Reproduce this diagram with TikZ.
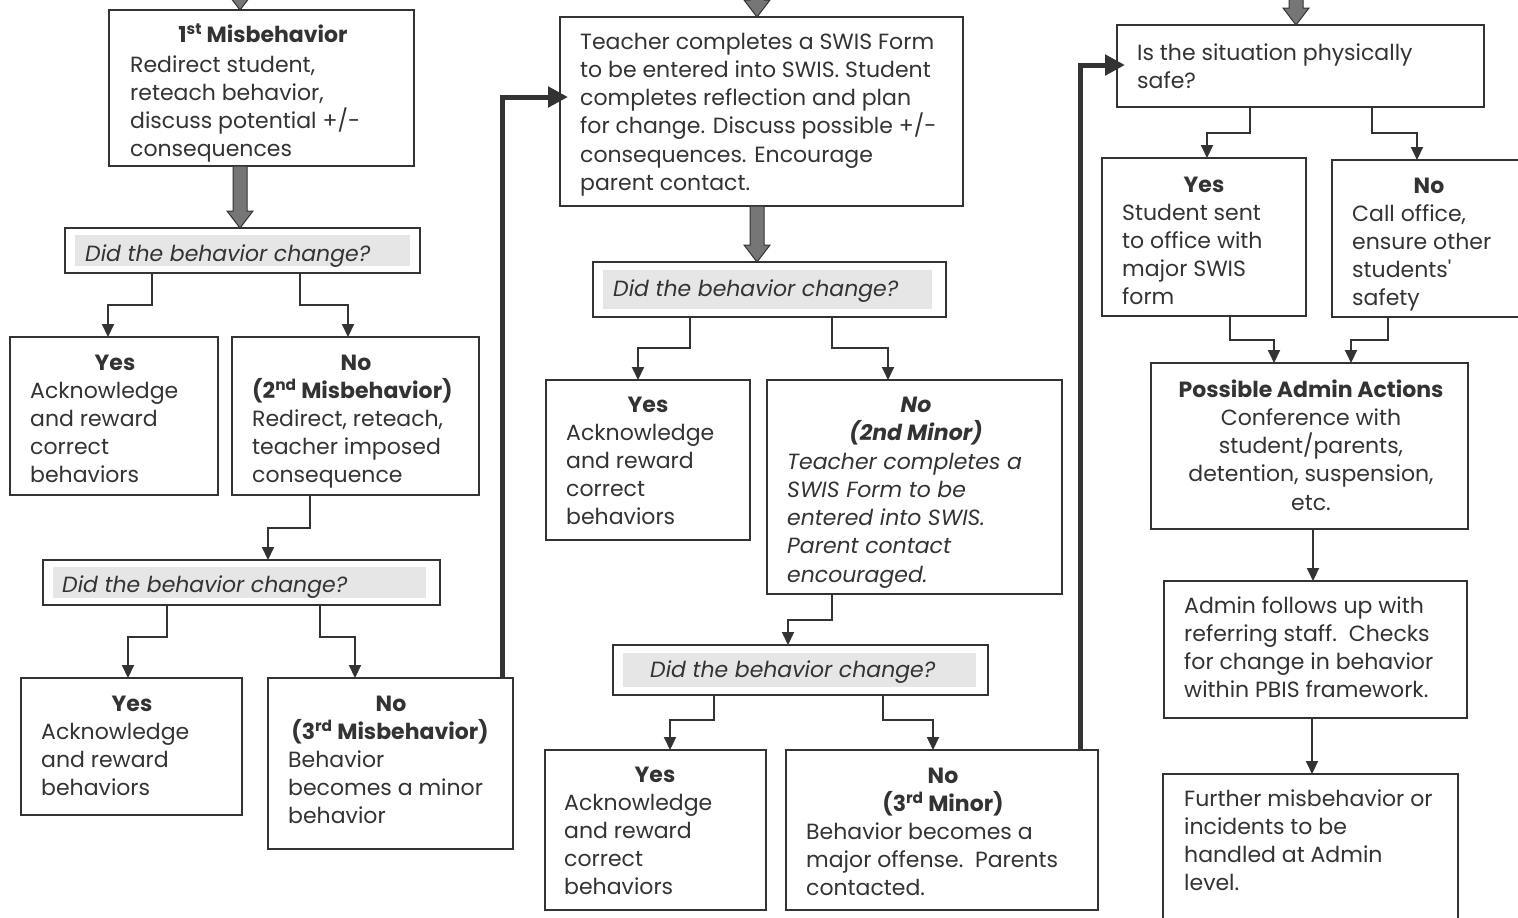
\documentclass[tikz,border=0pt]{standalone}
\IfFileExists{tgadventor.sty}{\usepackage[T1]{fontenc}\usepackage{tgadventor}\renewcommand\familydefault{\sfdefault}}{\usepackage{fontspec}\setmainfont{Poppins}}
\usepackage{textcomp}
\usetikzlibrary{arrows.meta,calc}
\definecolor{ink}{HTML}{333333}
\definecolor{hlc}{HTML}{E6E6E6}
\definecolor{blkc}{HTML}{767676}
\newcommand\fs{\fontsize{22}{28.2}\selectfont}
\newcommand\fl{\rule{0pt}{20pt}}
\tikzset{
  box/.style={draw=ink, line width=1.6pt, anchor=north west, inner sep=0pt, outer sep=0pt},
  txt/.style={anchor=north west, inner sep=0pt, align=left, text=ink, font=\fs},
  hd/.style={anchor=base, inner sep=0pt, text=ink, font=\fs\bfseries},
  qtxt/.style={anchor=base west, inner sep=0pt, text=ink, font=\fs\itshape},
  hl/.style={fill=hlc},
  conn/.style={draw=ink, line width=2pt, -{Triangle[length=13pt,width=12pt]}},
  bigconn/.style={draw=ink, line width=5pt, -{Triangle[length=20pt,width=20pt]}, shorten >=-8pt},
  blk/.style={draw=ink, fill=blkc, line width=1pt}
}
\newcommand\blockarr[2]{\path let \p1=(#1), \p2=(#2) in [blk] (\x1-7pt,\y1) -- (\x1-7pt,\y2+17pt) -- (\x1-13pt,\y2+17pt) -- (\x1,\y2) -- (\x1+13pt,\y2+17pt) -- (\x1+7pt,\y2+17pt) -- (\x1+7pt,\y1) -- cycle;}
\begin{document}
\begin{tikzpicture}[x=1pt,y=-1pt]
\fill[white] (0,0) rectangle (1518,918);
\useasboundingbox (0,0) rectangle (1518,918);

% ---------- boxes ----------
\node[box, minimum width=305, minimum height=156] (b1) at (109,10) {};
\node[box, minimum width=355, minimum height=45] (q1) at (65,228) {};
\node[box, minimum width=208, minimum height=158] (yes1) at (10,337) {};
\node[box, minimum width=247, minimum height=158] (no1) at (232,337) {};
\node[box, minimum width=397, minimum height=45] (q2) at (43,560) {};
\node[box, minimum width=221, minimum height=137] (yes2) at (21,678) {};
\node[box, minimum width=245, minimum height=171] (no2) at (268,678) {};

\node[box, minimum width=403, minimum height=189] (swis) at (560,17) {};
\node[box, minimum width=353, minimum height=55] (q3) at (593,262) {};
\node[box, minimum width=204, minimum height=160] (yes3) at (546,380) {};
\node[box, minimum width=295, minimum height=214] (no3) at (767,380) {};
\node[box, minimum width=375, minimum height=50] (q4) at (613,645) {};
\node[box, minimum width=221, minimum height=160] (yes4) at (545,750) {};
\node[box, minimum width=312, minimum height=160] (no4) at (786,750) {};

\node[box, minimum width=367, minimum height=82] (safe) at (1117,25) {};
\node[box, minimum width=204, minimum height=158] (yes5) at (1102,158) {};
\node[box, minimum width=192, minimum height=157] (no5) at (1332,160) {};
\node[box, minimum width=317, minimum height=166] (admin) at (1151,363) {};
\node[box, minimum width=303, minimum height=137] (follow) at (1164,581) {};
\node[box, minimum width=295, minimum height=160] (further) at (1163,774) {};

% ---------- highlights ----------
\fill[hl] ([shift={(10,7)}]q1.north west) rectangle ([shift={(-10,-7)}]q1.south east);
\fill[hl] ([shift={(10,7)}]q2.north west) rectangle ([shift={(-14,-7)}]q2.south east);
\fill[hl] ([shift={(10,8)}]q3.north west) rectangle ([shift={(-14,-8)}]q3.south east);
\fill[hl] ([shift={(10,8)}]q4.north west) rectangle ([shift={(-12,-8)}]q4.south east);

% ---------- texts ----------
\node[hd] (b1h) at (263,42) {1\textsuperscript{st} Misbehavior};
\node[txt] (b1t) at (130,{72-20}) {\fl Redirect student,\\reteach behavior,\\discuss potential +/-\\consequences};

\node[qtxt] (q1t) at (85,261) {Did the behavior change?};

\node[hd] (yes1h) at (115,370) {Yes};
\node[txt] (yes1t) at (30,{398-20}) {\fl Acknowledge\\and reward\\correct\\behaviors};

\node[hd] (no1h) at (356,370) {No};
\node[txt] (no1t) at (252,{398-20}) {\fl\textbf{(2\textsuperscript{nd} Misbehavior)}\\Redirect, reteach,\\teacher imposed\\consequence};

\node[qtxt] (q2t) at (62,592) {Did the behavior change?};

\node[hd] (yes2h) at (132,711) {Yes};
\node[txt] (yes2t) at (41,{739-20}) {\fl Acknowledge\\and reward\\behaviors};

\node[hd] (no2h) at (391,711) {No};
\node[hd] (no2h2) at (390,739) {(3\textsuperscript{rd} Misbehavior)};
\node[txt] (no2t) at (288,{767-20}) {\fl Behavior\\becomes a minor\\behavior};

\node[txt] (swist) at (580,{49-20}) {\fl Teacher completes a SWIS Form\\to be entered into SWIS. Student\\completes reflection and plan\\for change. Discuss possible +/-\\consequences. Encourage\\parent contact.};

\node[qtxt] (q3t) at (613,296) {Did the behavior change?};

\node[hd] (yes3h) at (648,412) {Yes};
\node[txt] (yes3t) at (566,{440-20}) {\fl Acknowledge\\and reward\\correct\\behaviors};

\node[hd, font=\fs\bfseries\itshape] (no3h) at (916,412) {No};
\node[hd, font=\fs\bfseries\itshape] (no3h2) at (916,440) {(2nd Minor)};
\node[txt, font=\fs\itshape] (no3t) at (787,{469-20}) {\fl Teacher completes a\\SWIS Form to be\\entered into SWIS.\\Parent contact\\encouraged.};

\node[qtxt] (q4t) at (650,677) {Did the behavior change?};

\node[hd] (yes4h) at (655,782) {Yes};
\node[txt] (yes4t) at (564,{810-20}) {\fl Acknowledge\\and reward\\correct\\behaviors};

\node[hd] (no4h) at (943,783) {No};
\node[hd] (no4h2) at (943,811) {(3\textsuperscript{rd} Minor)};
\node[txt] (no4t) at (806,{839-20}) {\fl Behavior becomes a\\major offense.\ \ Parents\\contacted.};

\node[txt] (safet) at (1137,{60-20}) {\fl Is the situation physically\\safe?};

\node[hd] (yes5h) at (1204,192) {Yes};
\node[txt] (yes5t) at (1122,{220-20}) {\fl Student sent\\to office with\\major SWIS\\form};

\node[hd] (no5h) at (1429,193) {No};
\node[txt] (no5t) at (1352,{221-20}) {\fl Call office,\\ensure other\\students\textquotesingle\\safety};

\node[anchor=north, inner sep=0pt, align=center, text=ink, font=\fs] (admint) at (1311,{397-20}) {\fl\textbf{Possible Admin Actions}\\Conference with\\student/parents,\\detention, suspension,\\etc.};

\node[txt] (followt) at (1184,{613-20}) {\fl Admin follows up with\\referring staff.\ \ Checks\\for change in behavior\\within PBIS framework.};

\node[txt] (furthert) at (1184,{806-20}) {\fl Further misbehavior or\\incidents to be\\handled at Admin\\level.};

% ---------- connectors ----------
\draw[conn] (q1.south -| 152,0) |- (108,305) -- (yes1.north -| 108,0);
\draw[conn] (q1.south -| 300,0) |- (348,305) -- (no1.north -| 348,0);
\draw[conn] (no1.south -| 310,0) |- (268,528) -- (q2.north -| 268,0);
\draw[conn] (q2.south -| 167,0) |- (128,637) -- (yes2.north -| 128,0);
\draw[conn] (q2.south -| 320,0) |- (355,637) -- (no2.north -| 355,0);

\draw[conn] (q3.south -| 690,0) |- (638,348) -- (yes3.north -| 638,0);
\draw[conn] (q3.south -| 832,0) |- (888,348) -- (no3.north -| 888,0);
\draw[conn] (no3.south -| 832,0) |- (788,620) -- (q4.north -| 788,0);
\draw[conn] (q4.south -| 714,0) |- (670,720) -- (yes4.north -| 670,0);
\draw[conn] (q4.south -| 883,0) |- (933,720) -- (no4.north -| 933,0);

\draw[conn] (safe.south -| 1250,0) |- (1207,133) -- (yes5.north -| 1207,0);
\draw[conn] (safe.south -| 1372,0) |- (1417,133) -- (no5.north -| 1417,0);
\draw[conn] (yes5.south -| 1230,0) |- (1274,340) -- (admin.north -| 1274,0);
\draw[conn] (no5.south -| 1388,0) |- (1351,340) -- (admin.north -| 1351,0);
\draw[conn] (admin.south -| 1313,0) -- (follow.north -| 1313,0);
\draw[conn] (follow.south -| 1312,0) -- (further.north -| 1312,0);

\draw[bigconn] (no2.north -| 502,0) |- (swis.west |- 0,97);
\draw[bigconn] (no4.north -| 1080,0) |- (safe.west |- 0,65);

% ---------- block arrows ----------
\coordinate (top1) at (240,-30);
\coordinate (top2) at (757,-30);
\coordinate (top3) at (1296,-30);
\blockarr{top1}{b1.north -| 240,0}
\blockarr{b1.south -| 240,0}{q1.north -| 240,0}
\blockarr{top2}{swis.north -| 757,0}
\blockarr{swis.south -| 757,0}{q3.north -| 757,0}
\blockarr{top3}{safe.north -| 1296,0}
\end{tikzpicture}
\end{document}
